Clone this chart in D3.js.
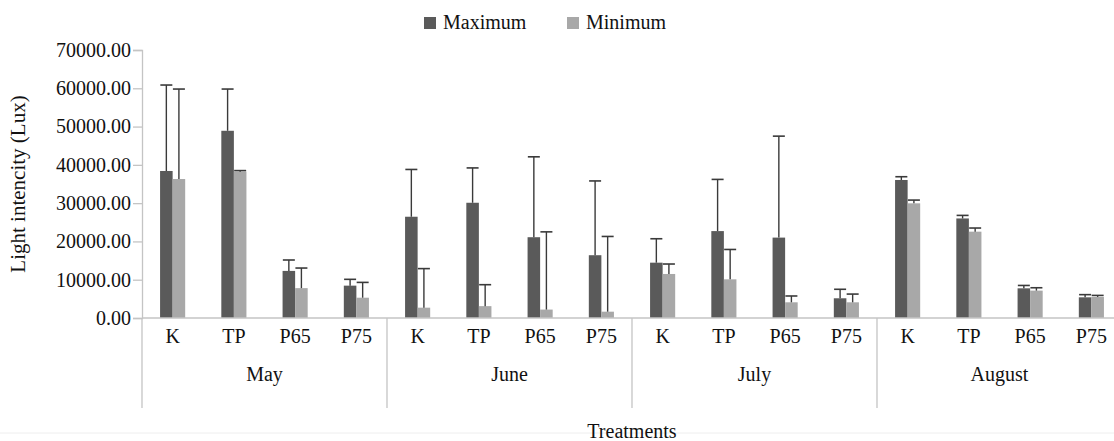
<!DOCTYPE html>
<html>
<head>
<meta charset="utf-8">
<script src="https://cdn.jsdelivr.net/npm/d3@7"></script>
<style>
  body { margin: 0; background: #fff; }
  svg text { font-family: "Liberation Serif", "Times New Roman", Times, "DejaVu Serif", serif; }
</style>
</head>
<body>
<div id="chart"></div>
<script>
const months = ['May', 'June', 'July', 'August'];
const treatments = ['K', 'TP', 'P65', 'P75'];
const seriesNames = ['Maximum', 'Minimum'];
const maxValues = [38400, 48900, 12300, 8450, 26450, 30100, 21100, 16400, 14450, 22700, 21000, 5150, 36050, 26000, 7750, 5400];
const maxErrors = [22450, 10900, 2850, 1650, 12350, 9100, 21000, 19400, 6250, 13500, 26500, 2350, 850, 800, 750, 700];
const minValues = [36300, 38200, 7800, 5300, 2700, 3100, 2200, 1650, 11500, 10100, 4100, 4100, 29950, 22550, 7150, 5500];
const minErrors = [23500, 300, 5250, 4000, 10200, 5600, 20300, 19650, 2600, 7800, 1650, 2150, 850, 950, 750, 400];
const yTicks = [0, 10000, 20000, 30000, 40000, 50000, 60000, 70000];

(function () {
  const W = 1114, H = 441;
  const left = 142, right = 1122, top = 50, bottom = 318;
  const colors = ['#5a5a5a', '#a8a8a8'];
  const axisCol = '#c4c4c4';
  const serif = '"Liberation Serif", "Times New Roman", Times, "DejaVu Serif", serif';

  const rows = [];
  months.forEach((m, mi) => treatments.forEach((t, ti) => {
    const i = mi * treatments.length + ti;
    rows.push({ key: m + '-' + t, month: m, t, vals: [maxValues[i], minValues[i]], errs: [maxErrors[i], minErrors[i]] });
  }));

  const svg = d3.select('#chart').append('svg').attr('width', W).attr('height', H).attr('font-family', serif);
  const x = d3.scaleBand().domain(rows.map((d) => d.key)).range([left, right]);
  const xm = d3.scaleBand().domain(months).range([left, right]);
  const y = d3.scaleLinear().domain([0, 70000]).range([bottom, top]);
  const bw = x.bandwidth() * 0.205;

  // y axis
  const ya = svg.append('g').attr('transform', `translate(${left},0)`)
    .call(d3.axisLeft(y).tickValues(yTicks).tickFormat(d3.format('.2f')).tickSize(9).tickPadding(2))
    .attr('font-family', serif).attr('font-size', 20);
  ya.select('.domain').attr('stroke', axisCol).attr('stroke-width', 1.3);
  ya.selectAll('.tick line').attr('stroke', axisCol).attr('stroke-width', 1.3);
  ya.selectAll('.tick text').attr('fill', '#111');

  // bars + error bars (upper only)
  const g = svg.append('g');
  rows.forEach((d) => {
    const cx = x(d.key) + x.bandwidth() / 2;
    d.vals.forEach((v, si) => {
      const x0 = si === 0 ? cx - bw : cx;
      g.append('rect').attr('x', x0).attr('y', y(v)).attr('width', bw).attr('height', y(0) - y(v)).attr('fill', colors[si]);
      const ex = x0 + bw / 2;
      const yt = y(v + d.errs[si]);
      g.append('line').attr('x1', ex).attr('x2', ex).attr('y1', y(v)).attr('y2', yt).attr('stroke', '#3a3a3a').attr('stroke-width', 1.4);
      g.append('line').attr('x1', ex - 6).attr('x2', ex + 6).attr('y1', yt).attr('y2', yt).attr('stroke', '#3a3a3a').attr('stroke-width', 1.6);
    });
  });

  // x axis baseline + month separators
  svg.append('line').attr('x1', left).attr('x2', W).attr('y1', bottom).attr('y2', bottom).attr('stroke', axisCol).attr('stroke-width', 1.3);
  months.forEach((m) => {
    svg.append('line').attr('x1', xm(m)).attr('x2', xm(m)).attr('y1', bottom).attr('y2', 408).attr('stroke', axisCol).attr('stroke-width', 1.3);
  });

  svg.append('g').selectAll('text').data(rows).join('text')
    .attr('x', (d) => x(d.key) + x.bandwidth() / 2).attr('y', 343)
    .attr('text-anchor', 'middle').attr('font-size', 20).attr('fill', '#111').text((d) => d.t);
  svg.append('g').selectAll('text').data(months).join('text')
    .attr('x', (d) => xm(d) + xm.bandwidth() / 2).attr('y', 381)
    .attr('text-anchor', 'middle').attr('font-size', 20).attr('fill', '#111').text((d) => d);

  svg.append('line').attr('x1', 0).attr('x2', W).attr('y1', 433).attr('y2', 433).attr('stroke', '#eeeeee');
  svg.append('text').attr('x', (left + right) / 2).attr('y', 438).attr('text-anchor', 'middle')
    .attr('font-size', 20).attr('fill', '#111').text('Treatments');

  svg.append('text').attr('transform', `translate(25,${(top + bottom) / 2}) rotate(-90)`)
    .attr('text-anchor', 'middle').attr('font-size', 21).attr('fill', '#111').text('Light intencity (Lux)');

  // legend
  const leg = svg.append('g');
  const legX = [424, 567];
  seriesNames.forEach((s, i) => {
    leg.append('rect').attr('x', legX[i]).attr('y', 17).attr('width', 12).attr('height', 12).attr('fill', colors[i]);
    leg.append('text').attr('x', legX[i] + 19).attr('y', 29).attr('font-size', 20).attr('fill', '#111').text(s);
  });
})();
</script>
</body>
</html>
